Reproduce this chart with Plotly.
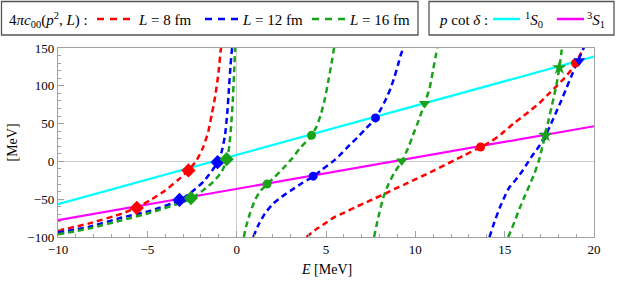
import plotly.graph_objects as go

# ---------------- data ----------------
# p cot delta lines (MeV vs MeV)
s0_E = [-10, 20]
s0_V = [-56.6, 138.6]
s1_E = [-10, 20]
s1_V = [-77.8, 46.5]

# 4*pi*c00(p^2, L) curves, branches separated by None
red_E = [-10, -8.29, -6.42, -5.59, -4.84, -4.10, -3.3, -2.70, -2.23, -1.86, -1.59, -1.40, -1.22, -1.03, -0.89, -0.86,
         None,
         3.91, 4.38, 4.93, 5.45, 6.05, 6.61, 7.17, 7.73, 8.28, 8.84, 9.40, 9.96, 10.52, 11.08, 11.64, 12.20, 12.76,
         13.65, 14.25, 14.80, 15.51, 16.01, 16.48, 16.94, 17.41, 17.88, 18.34, 18.72, 18.96, 19.18, 19.37, 19.42]
red_V = [-91.5, -82.3, -69, -61, -51.3, -40.2, -25, -12, 1.8, 19.5, 39.4, 61.5, 83.6, 114.6, 147.7, 152,
         None,
         -100, -91, -82.3, -74, -67.5, -61, -55, -49, -43, -36.5, -30.5, -24, -18, -11.5, -5, 1.8, 8.4,
         19, 26.5, 36, 50.4, 59.3, 68.1, 77, 88, 99, 110, 121, 130, 139, 148, 152]

blue_E = [-10, -8.29, -6.42, -4.84, -3.20, -2.5, -1.86, -1.06, -0.84, -0.65, -0.52, -0.43, -0.34, -0.26, -0.25,
          None,
          0.93, 1.21, 1.58, 2.05, 2.51, 3.07, 3.63, 4.28, 4.75, 5.50, 5.87, 6.33, 6.80, 7.26, 7.77, 8.10, 8.38,
          8.62, 8.84, 9.03, 9.22, 9.35, 9.37,
          None,
          14.15, 14.43, 14.71, 14.99, 15.27, 15.6, 15.95, 16.2, 16.5, 16.9, 17.28, 17.6, 17.88, 18.16, 18.44,
          18.72, 19.0, 19.2, 19.42, 19.45]
blue_V = [-94.2, -86.7, -74.3, -65.4, -51.7, -40, -27, -1.3, 12.8, 35, 65.9, 96.9, 127.8, 150, 153,
          None,
          -100, -84.5, -69, -55.7, -46.9, -38, -29.2, -20, -11.5, 2, 10.6, 21.7, 32.7, 44, 57, 70.4, 83.6,
          96.9, 112.3, 127.8, 143.4, 150, 153,
          None,
          -100, -80, -62, -47, -34, -25, -14, -5, 6, 19, 34, 50, 65, 80, 96,
          112, 128, 138, 150, 153]

green_E = [-10, -8.29, -6.42, -4.84, -2.55, -1.86, -1.31, -0.84, -0.56, -0.43, -0.32, -0.22, -0.15, -0.09, -0.08,
           None,
           0.40, 0.52, 0.74, 1.02, 1.30, 1.70, 2.14, 2.60, 3.07, 3.54, 4.19, 4.47, 4.71, 4.93, 5.12, 5.31, 5.45, 5.47,
           None,
           7.69, 7.91, 8.19, 8.47, 8.80, 9.25, 9.59, 9.87, 10.15, 10.52, 10.80, 10.98, 11.17, 11.23, 11.25,
           None,
           15.2, 15.55, 15.83, 16.11, 16.39, 16.67, 16.95, 17.13, 17.28, 17.46, 17.63, 17.78, 17.93, 18.06,
           18.16, 18.19, 18.21]
green_V = [-96.5, -88.9, -77.8, -68, -49.5, -38, -27, -13.7, 1.8, 17.3, 43.8, 79.2, 114.6, 147.7, 153,
           None,
           -100, -86.7, -69, -51.3, -40, -30, -20.4, -9.3, 3, 17.3, 34, 46, 62, 82, 105, 130, 150, 153,
           None,
           -100, -75.6, -49, -31.4, -15.9, 0.5, 17.3, 35, 52, 76.5, 97, 119, 143, 150, 153,
           None,
           -100, -80, -62.4, -46.9, -31.4, -15.9, 4, 21.7, 34.5, 54.9, 72.5, 88, 105.7, 124,
           141, 147.7, 153]

# intersection markers
red_dia_E = [-5.59, -2.70]
red_dia_V = [-61.5, -12]
red_cir_E = [13.65, 18.96]
red_cir_V = [19, 130]
blue_dia_E = [-3.20, -1.07]
blue_dia_V = [-51, -1]
blue_cir_E = [4.28, 7.77]
blue_cir_V = [-19.5, 57.5]
blue_tri_E = [17.28, 19.18]
blue_tri_V = [34.5, 133]
green_dia_E = [-2.56, -0.56]
green_dia_V = [-48.5, 3]
green_cir_E = [1.70, 4.19]
green_cir_V = [-30, 34.5]
green_tri_E = [9.24, 10.52]
green_tri_V = [0.5, 76.5]
green_star_E = [17.28, 18.06]
green_star_V = [34.5, 124]

x_ticks = [-10, -5, 0, 5, 10, 15, 20]
y_ticks = [-100, -50, 0, 50, 100, 150]

# ---------------- styles ----------------
RED = "#ff0000"
BLUE = "#0000ff"
GREEN = "#1aa31a"
CYAN = "#00ffff"
MAGENTA = "#ff00ff"
FONT = "Liberation Serif"
DASH = "6px,4px"

fig = go.Figure()

fig.add_trace(go.Scatter(x=s0_E, y=s0_V, mode="lines", line=dict(color=CYAN, width=2.2), showlegend=False))
fig.add_trace(go.Scatter(x=s1_E, y=s1_V, mode="lines", line=dict(color=MAGENTA, width=2.2), showlegend=False))

for xs, ys, c in [(red_E, red_V, RED), (blue_E, blue_V, BLUE), (green_E, green_V, GREEN)]:
    fig.add_trace(go.Scatter(x=xs, y=ys, mode="lines", connectgaps=False,
                             line=dict(color=c, width=2.5, dash=DASH, shape="spline", smoothing=0.5),
                             showlegend=False))

markers = [
    (red_dia_E, red_dia_V, RED, "diamond", 11),
    (red_cir_E, red_cir_V, RED, "circle", 9),
    (blue_dia_E, blue_dia_V, BLUE, "diamond", 11),
    (blue_cir_E, blue_cir_V, BLUE, "circle", 9),
    (blue_tri_E, blue_tri_V, BLUE, "triangle-down", 10),
    (green_dia_E, green_dia_V, GREEN, "diamond", 11),
    (green_cir_E, green_cir_V, GREEN, "circle", 9),
    (green_tri_E, green_tri_V, GREEN, "triangle-down", 10),
    (green_star_E, green_star_V, GREEN, "star", 11),
]
for xs, ys, c, sym, sz in markers:
    fig.add_trace(go.Scatter(x=xs, y=ys, mode="markers",
                             marker=dict(color=c, symbol=sym, size=sz, line=dict(width=0)),
                             showlegend=False))

axis_common = dict(showgrid=False, showline=True, mirror=True, linecolor="#a0a0a0", linewidth=1.2,
                   ticks="inside", ticklen=6, tickcolor="#a0a0a0", tickwidth=1,
                   zeroline=True, zerolinecolor="#cfcfcf", zerolinewidth=1.5,
                   tickfont=dict(family=FONT, size=13, color="black"))

fig.update_xaxes(range=[-10, 20], tickvals=x_ticks, ticktext=[("\u2212" + str(-v)) if v < 0 else str(v) for v in x_ticks],
                 minor=dict(ticks="inside", dtick=1, ticklen=3, tickcolor="#a0a0a0"), **axis_common)
fig.update_yaxes(range=[-100, 150], tickvals=y_ticks, ticktext=[("\u2212" + str(-v)) if v < 0 else str(v) for v in y_ticks],
                 minor=dict(ticks="inside", dtick=10, ticklen=3, tickcolor="#a0a0a0"), **axis_common)

L, R, T, B = 58, 23, 48, 46
W, H = 617, 283
PW, PH = W - L - R, H - T - B


def px(x):
    return (x - L) / PW


def py(y):
    return (H - B - y) / PH


shapes = []
annotations = []
# legend boxes
for x0, x1 in [(1.5, 418), (429, 614)]:
    shapes.append(dict(type="rect", xref="paper", yref="paper", x0=px(x0), x1=px(x1), y0=py(35), y1=py(1.5),
                       line=dict(color="#555555", width=1.3), fillcolor="white", layer="above"))

ly = 19
legend_items = [
    (97, 130, RED, "dash", 136, "<i>L</i> = 8 fm"),
    (205, 238, BLUE, "dash", 240, "<i>L</i> = 12 fm"),
    (312, 345, GREEN, "dash", 347, "<i>L</i> = 16 fm"),
    (493, 520, CYAN, "solid", 523, "<sup>1</sup><i>S</i><sub>0</sub>"),
    (557, 584, MAGENTA, "solid", 585, "<sup>3</sup><i>S</i><sub>1</sub>"),
]
for x0, x1, c, d, tx, txt in legend_items:
    shapes.append(dict(type="line", xref="paper", yref="paper", x0=px(x0), x1=px(x1), y0=py(ly), y1=py(ly),
                       line=dict(color=c, width=2.5, dash="7px,6px" if d == "dash" else "solid"), layer="above"))
    annotations.append(dict(xref="paper", yref="paper", x=px(tx), y=py(ly + 1), xanchor="left", yanchor="middle",
                            text=txt, showarrow=False, font=dict(family=FONT, size=15, color="black")))

annotations.append(dict(xref="paper", yref="paper", x=px(7), y=py(ly + 1), xanchor="left", yanchor="middle",
                        text="4<i>\u03c0c</i><sub>00</sub>(<i>p</i><sup>2</sup>, <i>L</i>) :", showarrow=False,
                        font=dict(family=FONT, size=15, color="black")))
annotations.append(dict(xref="paper", yref="paper", x=px(437), y=py(ly + 1), xanchor="left", yanchor="middle",
                        text="<i>p</i> cot <i>\u03b4</i> :", showarrow=False,
                        font=dict(family=FONT, size=15, color="black")))

# axis titles
annotations.append(dict(xref="paper", yref="paper", x=0.5, y=py(269), xanchor="center", yanchor="middle",
                        text="<i>E</i> [MeV]", showarrow=False, font=dict(family=FONT, size=14, color="black")))
annotations.append(dict(xref="paper", yref="paper", x=px(12), y=0.5, xanchor="center", yanchor="middle",
                        text="[MeV]", textangle=-90, showarrow=False, font=dict(family=FONT, size=14, color="black")))

fig.update_layout(width=W, height=H, margin=dict(l=L, r=R, t=T, b=B, pad=0),
                  plot_bgcolor="white", paper_bgcolor="white", hovermode=False,
                  shapes=shapes, annotations=annotations, showlegend=False,
                  font=dict(family=FONT, size=13, color="black"))

fig.write_html("out.html", config={"displayModeBar": False, "staticPlot": True},
               post_script="document.body.style.margin='0px';document.body.style.padding='0px';"
                           "document.body.style.overflow='hidden';")
